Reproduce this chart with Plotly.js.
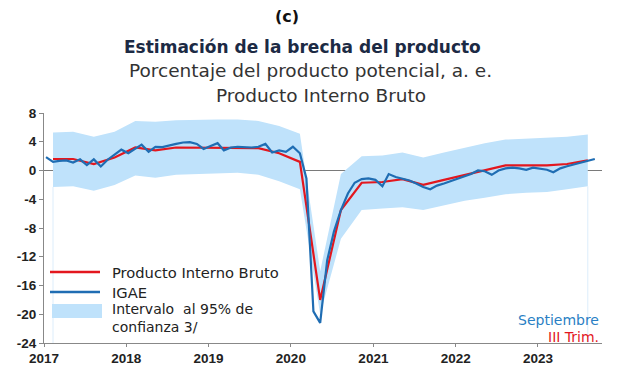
<!DOCTYPE html>
<html>
<head>
<meta charset="utf-8">
<script src="https://cdn.plot.ly/plotly-3.0.1.min.js"></script>
<style>html,body{margin:0;padding:0;background:#fff;}#chart{width:625px;height:365px;}</style>
</head>
<body>
<div id="chart"></div>
<script>
// ---- DATA ----
// IGAE monthly, Jan 2017 .. Sep 2023
const igaeStart = [2017, 1];
const igaeValues = [
  1.85, 1.2, 1.35, 1.4, 1.1, 1.55, 0.75, 1.55, 0.55, 1.5, 2.2, 2.9,
  2.4, 3.0, 3.6, 2.6, 3.3, 3.25, 3.5, 3.7, 3.9, 3.95, 3.7, 3.0,
  3.4, 3.8, 2.8, 3.2, 3.3, 3.25, 3.2, 3.3, 3.7, 2.5, 2.8, 2.6,
  3.3, 2.4, -1.1, -19.6, -21.2, -12.5, -8.5, -5.5, -3.2, -1.7, -1.2, -1.1,
  -1.3, -2.2, -0.5, -0.9, -1.1, -1.4, -1.8, -2.3, -2.6, -2.1, -1.8, -1.45,
  -1.1, -0.8, -0.5, 0.0, -0.1, -0.6, 0.0, 0.3, 0.4, 0.3, 0.1, 0.4,
  0.25, 0.1, -0.25, 0.3, 0.6, 0.85, 1.0, 1.25, 1.6
];
// PIB quarterly, 2017 Q1 .. 2023 Q3 (plotted at mid-quarter month)
const pibStart = [2017, 2];
const pibValues = [
  1.6, 1.6, 0.9, 1.8, 3.2, 2.8, 3.2, 3.2, 3.2, 3.2, 3.1, 2.4, 1.2,
  -18.0, -5.5, -1.7, -1.6, -1.2, -2.0, -1.3, -0.6, 0.1, 0.7, 0.7, 0.7, 0.9, 1.4
];
// 95% confidence interval, quarterly
const bandUpper = [
  5.3, 5.4, 4.7, 5.4, 6.9, 6.8, 7.0, 7.1, 7.1, 7.1, 6.9, 6.2, 5.1,
  -14.0, -0.5, 2.0, 2.1, 2.5, 1.8, 2.5, 3.2, 3.8, 4.3, 4.4, 4.5, 4.7, 5.0
];
const bandLower = [
  -2.3, -2.2, -2.8, -2.0, -0.7, -1.0, -0.6, -0.5, -0.4, -0.3, -0.6, -1.5, -2.6,
  -20.0, -9.5, -5.5, -5.3, -5.1, -5.5, -4.8, -4.2, -3.8, -3.3, -3.1, -3.0, -2.6, -2.2
];
const yTicks = [8, 4, 0, -4, -8, -12, -16, -20, -24];
const xTickYears = [2017, 2018, 2019, 2020, 2021, 2022, 2023];
const legendLabels = ['Producto Interno Bruto', 'IGAE', 'Intervalo  al 95% de', 'confianza 3/'];

function dates(start, n, stepMonths) {
  const out = [];
  let y = start[0], m = start[1];
  for (let i = 0; i < n; i++) {
    out.push(y + '-' + String(m).padStart(2, '0') + '-10');
    m += stepMonths;
    while (m > 12) { m -= 12; y += 1; }
  }
  return out;
}
const igaeDates = dates(igaeStart, igaeValues.length, 1);
const pibDates = dates(pibStart, pibValues.length, 3);

const BLUE = '#1f6db3';
const RED = '#e3171e';
const BAND = '#bfe2fb';
const FONT = 'DejaVu Sans, Verdana, sans-serif';
const TICKFONT = {family: 'Liberation Sans, Arial, sans-serif', size: 13.5, color: '#222', weight: 'bold'};

const traces = [
  {x: pibDates, y: bandLower, type: 'scatter', mode: 'lines', line: {width: 0, color: BAND},
   showlegend: false, hoverinfo: 'skip'},
  {x: pibDates, y: bandUpper, type: 'scatter', mode: 'lines', fill: 'tonexty', fillcolor: BAND,
   line: {width: 0, color: BAND}, name: legendLabels[2] + ' ' + legendLabels[3], showlegend: false},
  {x: pibDates, y: pibValues, type: 'scatter', mode: 'lines', line: {color: RED, width: 2.2},
   name: legendLabels[0], showlegend: false},
  {x: igaeDates, y: igaeValues, type: 'scatter', mode: 'lines', line: {color: BLUE, width: 2.2},
   name: legendLabels[1], showlegend: false}
];

// helpers: pixel -> paper for the plot area (l=44, width 558; bottom 343, height 230)
const px = v => (v - 44) / 558;
const py = v => (343 - v) / 230;

const ann = (text, x, y, size, color, extra) => Object.assign({
  text, xref: 'paper', yref: 'paper', x, y, showarrow: false, yanchor: 'middle',
  font: {family: FONT, size, color}
}, extra || {});

const layout = {
  width: 625, height: 365,
  margin: {l: 44, r: 23, t: 113, b: 22},
  paper_bgcolor: '#fff', plot_bgcolor: '#fff',
  font: {family: FONT, color: '#222'},
  showlegend: false,
  xaxis: {
    type: 'date', range: ['2017-01-01', '2023-10-12'],
    tickvals: xTickYears.map(y => y + '-01-01'), ticktext: xTickYears.map(String),
    ticks: 'outside', ticklen: 3, tickcolor: '#888', showline: true, linecolor: '#888', linewidth: 1,
    showgrid: false, zeroline: false, tickfont: TICKFONT
  },
  yaxis: {
    range: [-24, 8], tickvals: yTicks, ticktext: yTicks.map(String),
    ticks: 'outside', ticklen: 4, tickcolor: '#888', showline: true, linecolor: '#888', linewidth: 1,
    showgrid: false, zeroline: true, zerolinecolor: '#7a7a7a', zerolinewidth: 1.3, tickfont: TICKFONT
  },
  shapes: [
    // faint vertical edges of the confidence band
    {type: 'line', xref: 'x', yref: 'y', x0: pibDates[0], x1: pibDates[0], y0: -24, y1: bandLower[0],
     line: {color: '#dcedfb', width: 1}, layer: 'below'},
    {type: 'line', xref: 'x', yref: 'y', x0: pibDates[pibDates.length - 1], x1: pibDates[pibDates.length - 1],
     y0: -24, y1: bandLower[bandLower.length - 1], line: {color: '#dcedfb', width: 1}, layer: 'below'},
    // legend swatches
    {type: 'line', xref: 'paper', yref: 'paper', x0: px(50), x1: px(100), y0: py(272), y1: py(272),
     line: {color: RED, width: 2.6}},
    {type: 'line', xref: 'paper', yref: 'paper', x0: px(50), x1: px(100), y0: py(292), y1: py(292),
     line: {color: BLUE, width: 2.6}},
    {type: 'rect', xref: 'paper', yref: 'paper', x0: px(52), x1: px(102), y0: py(318), y1: py(304),
     fillcolor: BAND, line: {width: 0}}
  ],
  annotations: [
    ann('(c)', px(287), py(16), 16, '#111', {font: {family: FONT, size: 16, color: '#111', weight: 'bold'}}),
    ann('Estimación de la brecha del producto', px(302), py(47), 17, '#1c2a44',
        {font: {family: FONT, size: 17, color: '#1c2a44', weight: 'bold'}}),
    ann('Porcentaje del producto potencial, a. e.', px(310), py(70), 18.5, '#333'),
    ann('Producto Interno Bruto', px(321), py(95), 18.5, '#333'),
    ann(legendLabels[0], px(110), py(272), 14.7, '#222', {xanchor: 'left'}),
    ann(legendLabels[1], px(110), py(292), 14.7, '#222', {xanchor: 'left'}),
    ann(legendLabels[2] + '<br>' + legendLabels[3], px(110), py(318), 14, '#222',
        {xanchor: 'left', align: 'left', font: {family: FONT, size: 14, color: '#222', lineheight: 1.1}}),
    ann('Septiembre', px(601), py(320), 14, '#2a7fc4', {xanchor: 'right'}),
    ann('III Trim.', px(601), py(337), 14, RED, {xanchor: 'right'})
  ]
};

Plotly.newPlot('chart', traces, layout, {displayModeBar: false, staticPlot: true});
</script>
</body>
</html>
